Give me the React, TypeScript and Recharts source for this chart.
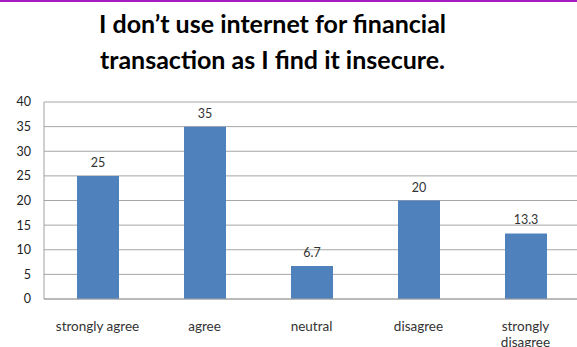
import React from "react";
import { Bar, BarChart, CartesianGrid, LabelList, XAxis, YAxis } from "recharts";

// survey responses, percent of respondents
const categories = ["strongly agree", "agree", "neutral", "disagree", "strongly disagree"];
const percents = [25, 35, 6.7, 20, 13.3];
const yTicks = [0, 5, 10, 15, 20, 25, 30, 35, 40];

const data = categories.map((name, i) => ({ name, value: percents[i] }));

const FONT = "Lato, 'Open Sans', sans-serif";

function CategoryTick({ x, y, payload }: any) {
  const words = String(payload.value).split(" ");
  // only the long one wraps, like the spreadsheet did
  const lines = payload.value === "strongly disagree" ? words : [payload.value];
  return (
    <text x={x} y={y} textAnchor="middle" fill="#333" fontSize={13.5} fontFamily={FONT}>
      {lines.map((line: string, i: number) => (
        <tspan key={i} x={x} dy={i === 0 ? 24 : 16}>
          {line}
        </tspan>
      ))}
    </text>
  );
}

export default function App() {
  return (
    <div
      style={{
        position: "absolute",
        left: 0,
        top: 0,
        width: 577,
        height: 347,
        background: "#fff",
        overflow: "hidden",
      }}
    >
      <div style={{ position: "absolute", left: 0, top: 0, width: 577, height: 2, background: "#a51cbf" }} />
      <div
        style={{
          position: "absolute",
          left: 0,
          top: 5,
          width: 545,
          textAlign: "center",
          fontFamily: FONT,
          fontWeight: 700,
          fontSize: 25,
          lineHeight: "36px",
          color: "#000",
        }}
      >
        I don’t use internet for financial
        <br />
        transaction as I find it insecure.
      </div>
      <BarChart
        width={577}
        height={347}
        data={data}
        margin={{ top: 102, right: -2, bottom: 0, left: 0 }}
        style={{ position: "absolute", left: 0, top: 0 }}
      >
        <CartesianGrid vertical={false} stroke="#a6a6a6" />
        <XAxis
          dataKey="name"
          height={48}
          tickLine={false}
          axisLine={{ stroke: "#a0a0a0" }}
          tick={<CategoryTick />}
          interval={0}
        />
        <YAxis
          width={44}
          domain={[0, 40]}
          ticks={yTicks}
          tickLine={false}
          tickSize={0}
          tickMargin={13}
          axisLine={{ stroke: "#a0a0a0" }}
          tick={{ fill: "#222", fontSize: 12.5, fontFamily: FONT }}
        />
        <Bar dataKey="value" fill="#4f81bd" barSize={42} isAnimationActive={false}>
          <LabelList
            dataKey="value"
            position="top"
            offset={9}
            fill="#333"
            fontSize={12.5}
            fontFamily={FONT}
          />
        </Bar>
      </BarChart>
    </div>
  );
}
